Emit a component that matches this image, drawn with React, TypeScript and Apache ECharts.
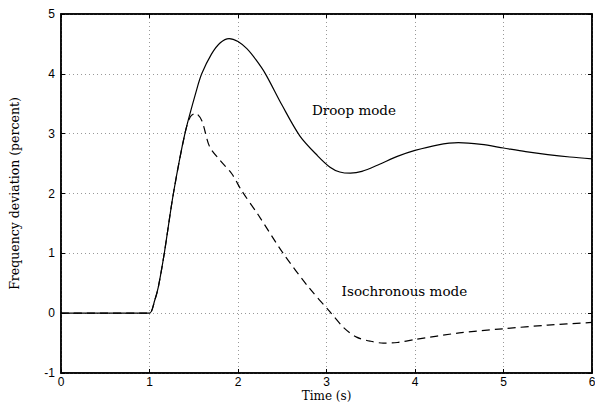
import React, { useEffect, useRef } from "react";
import * as echarts from "echarts";

const xTicks = [0, 1, 2, 3, 4, 5, 6];
const yTicks = [-1, 0, 1, 2, 3, 4, 5];

const droopT = [0, 0.9, 1.0, 1.06, 1.1, 1.167, 1.27, 1.4, 1.53, 1.59, 1.7, 1.8, 1.9, 2.0, 2.1, 2.2, 2.31, 2.5, 2.7, 2.9, 3.04, 3.15, 3.27, 3.4, 3.6, 3.8, 4.0, 4.25, 4.49, 4.75, 5.0, 5.25, 5.5, 5.75, 6.0];
const droopV = [0, 0, 0, 0.22, 0.44, 1.0, 2.0, 3.0, 3.72, 4.0, 4.33, 4.52, 4.59, 4.54, 4.42, 4.24, 4.0, 3.47, 2.96, 2.63, 2.44, 2.36, 2.34, 2.37, 2.49, 2.62, 2.72, 2.81, 2.85, 2.82, 2.76, 2.70, 2.65, 2.61, 2.58];

const isoT = [0, 0.9, 1.0, 1.06, 1.1, 1.167, 1.27, 1.4, 1.46, 1.52, 1.59, 1.68, 1.8, 1.93, 2.04, 2.23, 2.51, 2.8, 3.04, 3.2, 3.34, 3.5, 3.64, 3.8, 4.0, 4.5, 5.0, 5.5, 6.0];
const isoV = [0, 0, 0, 0.22, 0.44, 1.0, 2.0, 3.0, 3.28, 3.34, 3.22, 2.78, 2.55, 2.33, 2.05, 1.64, 1.0, 0.43, 0.02, -0.25, -0.40, -0.47, -0.50, -0.49, -0.44, -0.33, -0.26, -0.20, -0.155];

const droopLabel = { text: "Droop mode", t: 3.31, v: 3.39 };
const isoLabel = { text: "Isochronous mode", t: 3.88, v: 0.37 };

const xTitle = "Time (s)";
const yTitle = "Frequency deviation (percent)";

export default function App() {
  const ref = useRef<HTMLDivElement>(null);
  useEffect(() => {
    if (!ref.current) return;
    const chart = echarts.init(ref.current, null, { renderer: "svg" });
    const sans = "Liberation Sans";
    const serif = "DejaVu Serif";
    const labelFont = { color: "#000", fontFamily: sans, fontSize: 12 };
    const split = () => ({
      show: true,
      lineStyle: { color: "#999", type: [1, 3] as any, width: 1 },
    });
    const frame = () => ({ show: true, onZero: false, lineStyle: { color: "#000", width: 1.5 } });
    const tick = () => ({ show: true, inside: true, length: 4, lineStyle: { color: "#000" } });
    const mk = (l: { text: string; t: number; v: number }) => ({
      symbol: "circle",
      symbolSize: 0,
      silent: true,
      data: [{ coord: [l.t, l.v] }],
      label: {
        show: true,
        position: "inside",
        formatter: l.text,
        color: "#000",
        fontFamily: serif,
        fontSize: 13.5,
      },
    });
    chart.setOption({
      animation: false,
      backgroundColor: "#fff",
      grid: {
        left: 61,
        right: 3,
        top: 14,
        bottom: 29,
        show: true,
        borderColor: "#000",
        borderWidth: 1.5,
        containLabel: false,
        outerBoundsMode: "none",
      },
      xAxis: [
        {
          type: "value",
          min: xTicks[0],
          max: xTicks[xTicks.length - 1],
          interval: 1,
          name: xTitle,
          nameLocation: "middle",
          nameGap: 16.5,
          nameMoveOverlap: false,
          nameTextStyle: { color: "#000", fontFamily: serif, fontSize: 12 },
          axisLine: frame(),
          axisTick: tick(),
          axisLabel: { ...labelFont, margin: 3 },
          splitLine: split(),
        },
        {
          type: "value",
          position: "top",
          min: xTicks[0],
          max: xTicks[xTicks.length - 1],
          interval: 1,
          axisLine: frame(),
          axisTick: tick(),
          axisLabel: { show: false },
          splitLine: { show: false },
        },
      ],
      yAxis: [
        {
          type: "value",
          min: yTicks[0],
          max: yTicks[yTicks.length - 1],
          interval: 1,
          name: yTitle,
          nameLocation: "middle",
          nameGap: 40,
          nameMoveOverlap: false,
          nameTextStyle: { color: "#000", fontFamily: serif, fontSize: 12.5 },
          axisLine: frame(),
          axisTick: tick(),
          axisLabel: { ...labelFont, margin: 6 },
          splitLine: split(),
        },
        {
          type: "value",
          position: "right",
          min: yTicks[0],
          max: yTicks[yTicks.length - 1],
          interval: 1,
          axisLine: frame(),
          axisTick: tick(),
          axisLabel: { show: false },
          splitLine: { show: false },
        },
      ],
      series: [
        {
          type: "line",
          name: "Droop",
          data: droopT.map((t, i) => [t, droopV[i]]),
          showSymbol: false,
          smooth: 0.3,
          lineStyle: { color: "#000", width: 1.2, type: "solid" },
          markPoint: mk(droopLabel),
        },
        {
          type: "line",
          name: "Isochronous",
          data: isoT.map((t, i) => [t, isoV[i]]),
          showSymbol: false,
          smooth: 0.3,
          lineStyle: { color: "#000", width: 1.2, type: [8, 5] as any },
          markPoint: mk(isoLabel),
        },
      ],
    });
    return () => chart.dispose();
  }, []);
  return (
    <div
      ref={ref}
      style={{ position: "absolute", left: 0, top: 0, width: 595, height: 402 }}
    />
  );
}
